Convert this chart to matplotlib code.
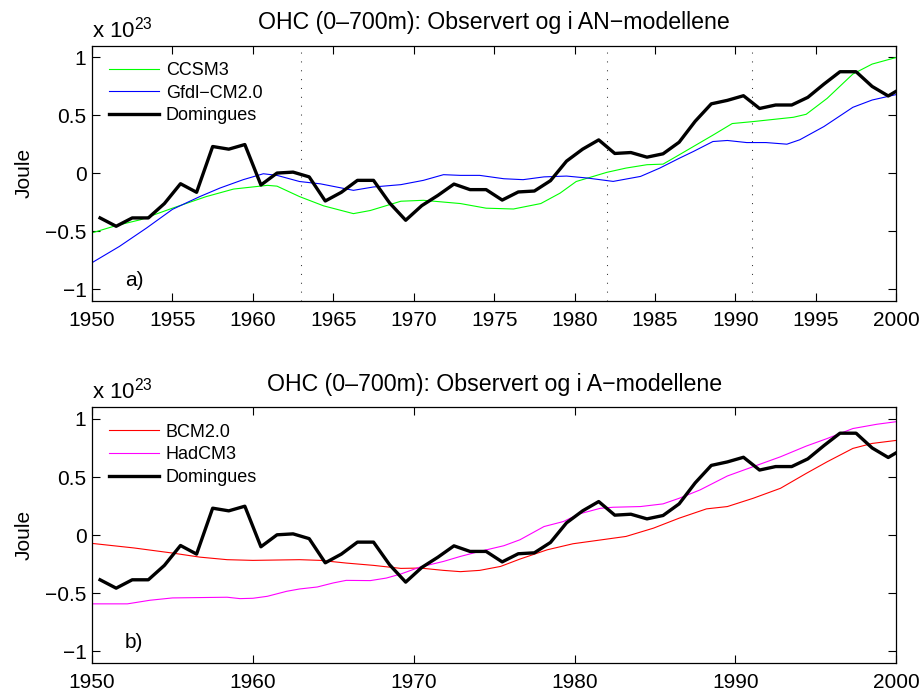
import numpy as np
import matplotlib
matplotlib.use("Agg")
import matplotlib.pyplot as plt

plt.rcParams['font.family'] = ['Liberation Sans', 'DejaVu Sans']
plt.rcParams['mathtext.fontset'] = 'custom'
plt.rcParams['mathtext.rm'] = 'Liberation Sans'
plt.rcParams['axes.unicode_minus'] = True

# Observed OHC, annual means (units of 1e23 J)
dom_years = [1950.5 + i for i in range(51)]
dom_ohc = [-0.384, -0.456, -0.384, -0.384, -0.26, -0.089, -0.163, 0.232, 0.209, 0.249,
           -0.10, 0.003, 0.011, -0.03, -0.238, -0.163, -0.06, -0.06, -0.255, -0.404,
           -0.278, -0.19, -0.092, -0.14, -0.14, -0.23, -0.16, -0.152, -0.063, 0.106,
           0.209, 0.289, 0.172, 0.18, 0.14, 0.169, 0.269, 0.45, 0.60, 0.63,
           0.67, 0.56, 0.59, 0.59, 0.656, 0.77, 0.877, 0.877, 0.75, 0.668, 0.75]

# AN models
ccsm3_years = [1950, 1951.5, 1953, 1955, 1957.1, 1958.8, 1960.9, 1961.5, 1962.9, 1964.4,
               1966.25, 1967.3, 1969.2, 1970.6, 1972.9, 1974.5, 1976.2, 1977.9, 1979.1, 1980.1,
               1982.0, 1983.2, 1984.5, 1985.5, 1986.5, 1988.6, 1989.8, 1991.1, 1993.6, 1994.4,
               1995.7, 1997.3, 1998.5, 2000]
ccsm3_ohc = [-0.513, -0.45, -0.40, -0.30, -0.20, -0.135, -0.103, -0.11, -0.20, -0.28,
             -0.347, -0.32, -0.24, -0.232, -0.26, -0.30, -0.307, -0.26, -0.17, -0.07,
             0.009, 0.046, 0.075, 0.08, 0.16, 0.33, 0.43, 0.447, 0.484, 0.51,
             0.647, 0.857, 0.943, 1.0]

gfdl_years = [1950, 1951.7, 1953.4, 1955, 1956.7, 1957.96, 1959.4, 1960.65, 1961.5, 1962.9,
              1964.2, 1966.25, 1967.5, 1969.2, 1970.6, 1971.85, 1972.9, 1974.1, 1975.6, 1976.8,
              1978.1, 1979.5, 1980.8, 1982.4, 1984.1, 1985.3, 1986.5, 1987.4, 1988.6, 1989.5,
              1990.7, 1991.9, 1993.2, 1994.0, 1995.5, 1997.3, 1998.5, 2000]
gfdl_ohc = [-0.77, -0.63, -0.47, -0.31, -0.20, -0.126, -0.054, -0.003, -0.017, -0.07,
            -0.09, -0.146, -0.117, -0.097, -0.06, -0.011, -0.017, -0.017, -0.046, -0.054,
            -0.03, -0.023, -0.04, -0.069, -0.026, 0.046, 0.13, 0.19, 0.275, 0.284,
            0.266, 0.266, 0.252, 0.29, 0.404, 0.57, 0.633, 0.68]

# A models
bcm_years = [1950, 1952.6, 1955, 1956.7, 1958.4, 1960.0, 1962.9, 1964.2, 1965.8, 1967.5,
             1969.2, 1970.4, 1971.85, 1972.9, 1974.1, 1975.4, 1976.6, 1978.3, 1979.9, 1982.0,
             1983.2, 1984.9, 1986.5, 1988.2, 1989.5, 1991.1, 1992.8, 1994.4, 1995.7, 1997.3,
             1998.5, 2000]
bcm_ohc = [-0.071, -0.11, -0.154, -0.189, -0.211, -0.217, -0.211, -0.217, -0.24, -0.26,
           -0.286, -0.283, -0.303, -0.314, -0.303, -0.269, -0.206, -0.126, -0.074, -0.034,
           -0.011, 0.06, 0.146, 0.226, 0.246, 0.317, 0.403, 0.531, 0.631, 0.746,
           0.789, 0.815]

had_years = [1950, 1952.2, 1953.6, 1955, 1956.7, 1958.4, 1959.2, 1960, 1960.9, 1962.1,
             1962.9, 1964.0, 1965.0, 1965.8, 1967.3, 1968.3, 1969.2, 1970.4, 1971.85, 1972.9,
             1974.1, 1975.6, 1976.6, 1978.1, 1979.3, 1980.3, 1981.6, 1982.4, 1984.1, 1985.5,
             1986.5, 1987.8, 1989.5, 1991.1, 1992.8, 1994.4, 1995.7, 1997.3, 1998.8, 2000]
had_ohc = [-0.591, -0.591, -0.56, -0.54, -0.537, -0.534, -0.546, -0.543, -0.526, -0.483,
           -0.463, -0.446, -0.411, -0.389, -0.391, -0.369, -0.334, -0.274, -0.226, -0.183,
           -0.14, -0.091, -0.04, 0.074, 0.117, 0.183, 0.231, 0.24, 0.246, 0.269,
           0.317, 0.389, 0.509, 0.589, 0.674, 0.766, 0.831, 0.917, 0.954, 0.976]

# volcanic eruptions (Agung, El Chichon, Pinatubo)
eruptions = [1963, 1982, 1991]

fig = plt.figure(figsize=(9.24, 6.95), dpi=100)
ax1 = fig.add_axes([0.0996, 0.567, 0.8704, 0.367])
ax2 = fig.add_axes([0.0996, 0.046, 0.8704, 0.368])


def style_axes(ax, xticks, title, letter):
    ax.set_xlim(1950, 2000)
    ax.set_ylim(-1.1, 1.1)
    ax.set_xticks(xticks)
    ax.set_xticklabels([str(t) for t in xticks])
    ax.set_yticks([-1, -0.5, 0, 0.5, 1])
    ax.set_yticklabels(['\u22121', '\u22120.5', '0', '0.5', '1'])
    ax.tick_params(direction='in', length=6, width=0.8, top=True, right=True,
                   labelsize=15, colors='black')
    ax.tick_params(axis='x', pad=7)
    ax.tick_params(axis='y', pad=4)
    for sp in ax.spines.values():
        sp.set_linewidth(0.9)
    ax.set_ylabel('Joule', fontsize=15, labelpad=8)
    ax.set_title(title, fontsize=16.7, pad=12)
    ax.text(0, 1.015, r'x 10$^{23}$', transform=ax.transAxes, fontsize=16,
            ha='left', va='bottom')
    ax.text(0.041, 0.082, letter, transform=ax.transAxes, fontsize=15,
            ha='left', va='center')
    leg = ax.legend(loc='upper left', bbox_to_anchor=(0.021, 0.936), frameon=False,
                    fontsize=13, handlelength=2.75, handletextpad=0.4,
                    labelspacing=0.31, borderpad=0, borderaxespad=0)
    return leg


# top panel
ax1.plot(ccsm3_years, ccsm3_ohc, color='#00ff00', lw=0.8, label='CCSM3')
ax1.plot(gfdl_years, gfdl_ohc, color='#0000ff', lw=0.8, label='Gfdl\u2212CM2.0')
ax1.plot(dom_years, dom_ohc, color='black', lw=2.4, label='Domingues')
for yr in eruptions:
    ax1.axvline(yr, color='#333333', lw=0.75, linestyle=(0, (1, 7.5)))
style_axes(ax1, list(range(1950, 2001, 5)),
           'OHC (0\u2013700m): Observert og i AN\u2212modellene', 'a)')

# bottom panel
ax2.plot(bcm_years, bcm_ohc, color='#ff0000', lw=0.8, label='BCM2.0')
ax2.plot(had_years, had_ohc, color='#ff00ff', lw=0.8, label='HadCM3')
ax2.plot(dom_years, dom_ohc, color='black', lw=2.4, label='Domingues')
style_axes(ax2, list(range(1950, 2001, 10)),
           'OHC (0\u2013700m): Observert og i A\u2212modellene', 'b)')

fig.savefig('out.png', dpi=100)
